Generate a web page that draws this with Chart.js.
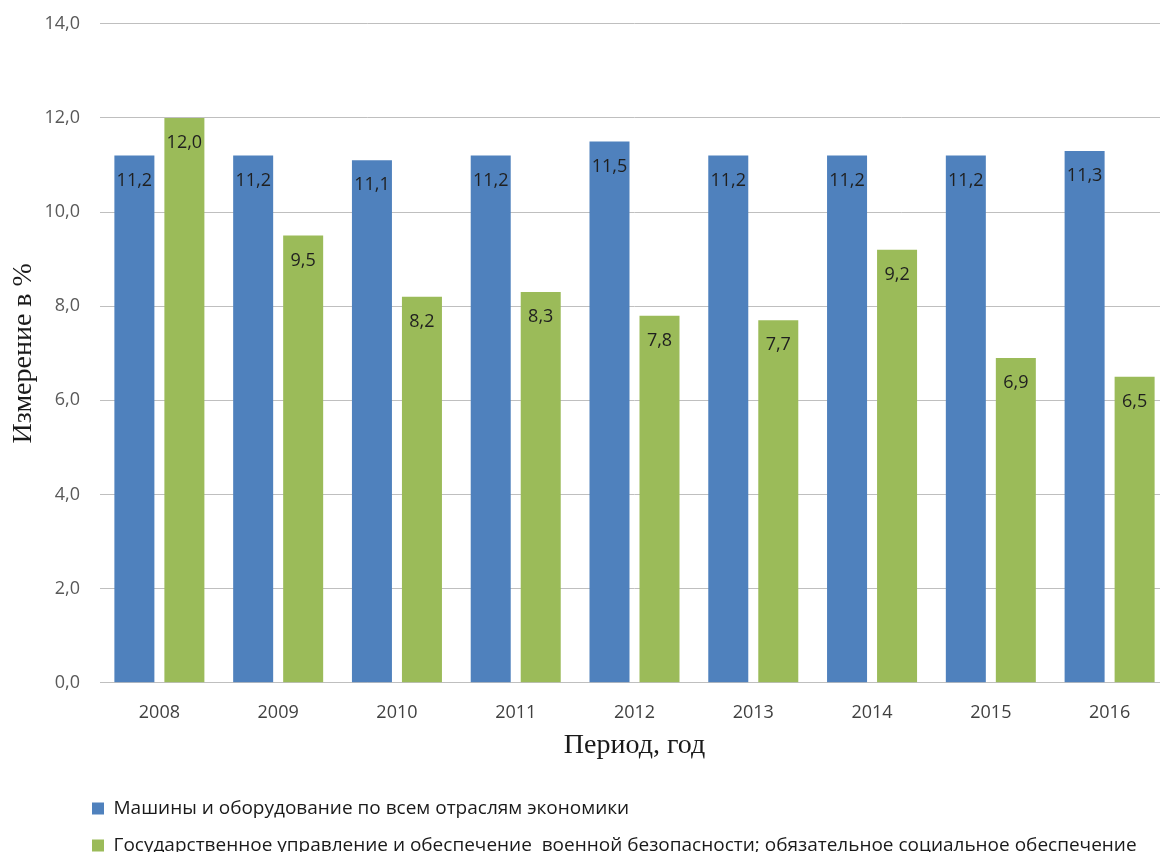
<!DOCTYPE html>
<html lang="ru">
<head>
<meta charset="utf-8">
<title>Машины и оборудование / Государственное управление</title>
<script src="https://cdn.jsdelivr.net/npm/chart.js@4/dist/chart.umd.min.js"></script>
<style>
    html, body { margin: 0; padding: 0; background: #fff; overflow: hidden; }
    #wrap { position: relative; width: 1170px; height: 872px; margin-top: -7px; }
</style>
</head>
<body>
<div id="wrap"><canvas id="chart"></canvas></div>
<script>
// Data
const years = ['2008', '2009', '2010', '2011', '2012', '2013', '2014', '2015', '2016'];
const machinesValues = [11.2, 11.2, 11.1, 11.2, 11.5, 11.2, 11.2, 11.2, 11.3];
const govValues = [12.0, 9.5, 8.2, 8.3, 7.8, 7.7, 9.2, 6.9, 6.5];
const seriesNames = [
    'Машины и оборудование по всем отраслям экономики',
    'Государственное управление и обеспечение  военной безопасности; обязательное социальное обеспечение'
];
const yTitle = 'Измерение в %';
const xTitle = 'Период, год';

const fmt = v => Number(v).toFixed(1).replace('.', ',');

// labels inside the bar, just below the top
const barLabels = {
    id: 'barLabels',
    afterDatasetsDraw(chart) {
        const ctx = chart.ctx;
        ctx.save();
        ctx.font = '18px "Open Sans", sans-serif';
        ctx.fillStyle = '#1f1f1f';
        ctx.textAlign = 'center';
        ctx.textBaseline = 'middle';
        chart.data.datasets.forEach((ds, i) => {
            chart.getDatasetMeta(i).data.forEach((bar, j) => {
                ctx.fillText(fmt(ds.data[j]), bar.x, bar.y + 25);
            });
        });
        ctx.restore();
    }
};

// legend sits a bit in from the left edge
const legendShift = {
    id: 'legendShift',
    afterLayout(chart) {
        if (chart.legend) chart.legend.left = 74;
    }
};

new Chart(document.getElementById('chart'), {
    type: 'bar',
    data: {
        labels: years,
        datasets: [
            { label: seriesNames[0], data: machinesValues, backgroundColor: '#4f81bd' },
            { label: seriesNames[1], data: govValues, backgroundColor: '#9bbb59' }
        ]
    },
    options: {
        responsive: true,
        maintainAspectRatio: false,
        animation: false,
        categoryPercentage: 0.842,
        barPercentage: 0.8,
        layout: { padding: { top: 16, right: 1, left: 0, bottom: 0 } },
        plugins: {
            tooltip: { enabled: false },
            legend: {
                position: 'bottom',
                align: 'start',
                labels: {
                    font: { family: '"Open Sans", sans-serif', size: 19 },
                    color: '#1a1a1a',
                    boxWidth: 12,
                    boxHeight: 12,
                    padding: 18
                }
            }
        },
        scales: {
            x: {
                grid: { display: false, drawTicks: false },
                border: { display: true, color: '#bfbfbf', width: 1 },
                ticks: {
                    padding: 19,
                    color: '#404040',
                    font: { family: '"Open Sans", sans-serif', size: 18 }
                },
                title: {
                    display: true,
                    text: xTitle,
                    color: '#1a1a1a',
                    font: { family: '"Liberation Serif", serif', size: 28 },
                    padding: { top: -14, bottom: 19 }
                }
            },
            y: {
                min: 0,
                max: 14,
                afterFit: scale => { scale.width = 100; },
                grid: { color: '#bfbfbf', lineWidth: 1, drawTicks: false },
                border: { display: false },
                ticks: {
                    stepSize: 2,
                    padding: 20,
                    color: '#595959',
                    font: { family: '"Open Sans", sans-serif', size: 18 },
                    callback: v => fmt(v)
                },
                title: {
                    display: true,
                    text: yTitle,
                    color: '#1a1a1a',
                    font: { family: '"Liberation Serif", serif', size: 28 },
                    padding: { top: 7, bottom: 0 }
                }
            }
        }
    },
    plugins: [barLabels, legendShift]
});
</script>
</body>
</html>
